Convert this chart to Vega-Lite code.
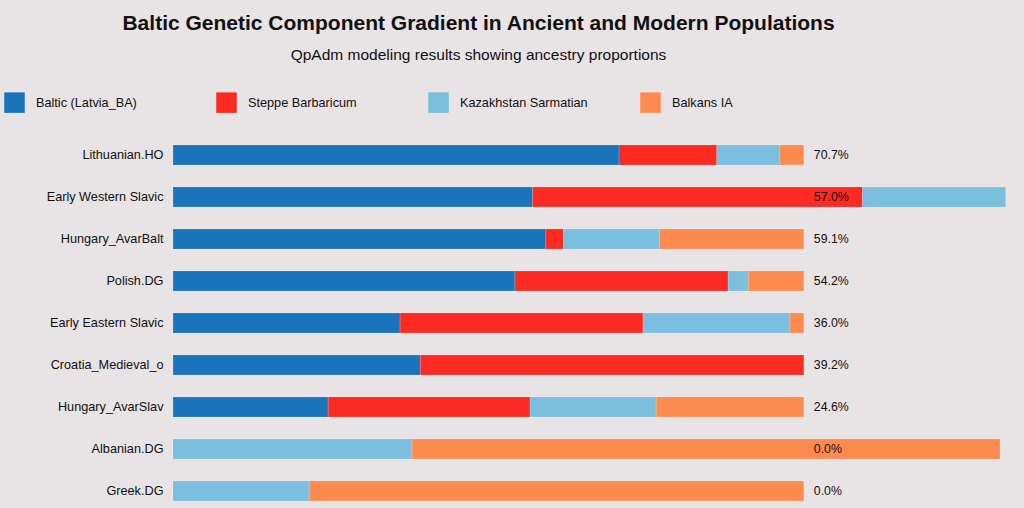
{
  "$schema": "https://vega.github.io/schema/vega-lite/v6.json",
  "autosize": {"type": "none"},
  "padding": {"left": 173, "top": 145, "right": 0, "bottom": 7},
  "width": 851,
  "height": 356,
  "background": "#e8e3e4",
  "config": {
    "view": {"stroke": null},
    "font": "Liberation Sans"
  },
  "title": {
    "text": "Baltic Genetic Component Gradient in Ancient and Modern Populations",
    "subtitle": "QpAdm modeling results showing ancestry proportions",
    "anchor": "middle",
    "frame": "group",
    "dx": -120,
    "offset": 29,
    "fontSize": 21,
    "fontWeight": "bold",
    "color": "#111111",
    "subtitleFontSize": 15.5,
    "subtitleColor": "#111111",
    "subtitlePadding": 14
  },
  "datasets": {
    "parts": [
      {"population": "Lithuanian.HO", "component": "Baltic (Latvia_BA)", "k": 1, "value": 70.7},
      {"population": "Lithuanian.HO", "component": "Steppe Barbaricum", "k": 2, "value": 15.5},
      {"population": "Lithuanian.HO", "component": "Kazakhstan Sarmatian", "k": 3, "value": 10.0},
      {"population": "Lithuanian.HO", "component": "Balkans IA", "k": 4, "value": 3.8},
      {"population": "Early Western Slavic", "component": "Baltic (Latvia_BA)", "k": 1, "value": 57.0},
      {"population": "Early Western Slavic", "component": "Steppe Barbaricum", "k": 2, "value": 52.3},
      {"population": "Early Western Slavic", "component": "Kazakhstan Sarmatian", "k": 3, "value": 22.7},
      {"population": "Hungary_AvarBalt", "component": "Baltic (Latvia_BA)", "k": 1, "value": 59.1},
      {"population": "Hungary_AvarBalt", "component": "Steppe Barbaricum", "k": 2, "value": 2.8},
      {"population": "Hungary_AvarBalt", "component": "Kazakhstan Sarmatian", "k": 3, "value": 15.2},
      {"population": "Hungary_AvarBalt", "component": "Balkans IA", "k": 4, "value": 22.9},
      {"population": "Polish.DG", "component": "Baltic (Latvia_BA)", "k": 1, "value": 54.2},
      {"population": "Polish.DG", "component": "Steppe Barbaricum", "k": 2, "value": 33.8},
      {"population": "Polish.DG", "component": "Kazakhstan Sarmatian", "k": 3, "value": 3.2},
      {"population": "Polish.DG", "component": "Balkans IA", "k": 4, "value": 8.8},
      {"population": "Early Eastern Slavic", "component": "Baltic (Latvia_BA)", "k": 1, "value": 36.0},
      {"population": "Early Eastern Slavic", "component": "Steppe Barbaricum", "k": 2, "value": 38.5},
      {"population": "Early Eastern Slavic", "component": "Kazakhstan Sarmatian", "k": 3, "value": 23.3},
      {"population": "Early Eastern Slavic", "component": "Balkans IA", "k": 4, "value": 2.2},
      {"population": "Croatia_Medieval_o", "component": "Baltic (Latvia_BA)", "k": 1, "value": 39.2},
      {"population": "Croatia_Medieval_o", "component": "Steppe Barbaricum", "k": 2, "value": 60.8},
      {"population": "Hungary_AvarSlav", "component": "Baltic (Latvia_BA)", "k": 1, "value": 24.6},
      {"population": "Hungary_AvarSlav", "component": "Steppe Barbaricum", "k": 2, "value": 32.0},
      {"population": "Hungary_AvarSlav", "component": "Kazakhstan Sarmatian", "k": 3, "value": 20.0},
      {"population": "Hungary_AvarSlav", "component": "Balkans IA", "k": 4, "value": 23.4},
      {"population": "Albanian.DG", "component": "Kazakhstan Sarmatian", "k": 3, "value": 37.9},
      {"population": "Albanian.DG", "component": "Balkans IA", "k": 4, "value": 93.2},
      {"population": "Greek.DG", "component": "Kazakhstan Sarmatian", "k": 3, "value": 21.6},
      {"population": "Greek.DG", "component": "Balkans IA", "k": 4, "value": 78.4}
    ],
    "labels": [
      {"population": "Lithuanian.HO", "label": "70.7%"},
      {"population": "Early Western Slavic", "label": "57.0%"},
      {"population": "Hungary_AvarBalt", "label": "59.1%"},
      {"population": "Polish.DG", "label": "54.2%"},
      {"population": "Early Eastern Slavic", "label": "36.0%"},
      {"population": "Croatia_Medieval_o", "label": "39.2%"},
      {"population": "Hungary_AvarSlav", "label": "24.6%"},
      {"population": "Albanian.DG", "label": "0.0%"},
      {"population": "Greek.DG", "label": "0.0%"}
    ]
  },
  "layer": [
    {
      "data": {"name": "parts"},
      "mark": {"type": "bar", "stroke": "#ffffff", "strokeOpacity": 0.25, "strokeWidth": 0.6},
      "encoding": {
        "y": {
          "field": "population", "type": "nominal",
          "sort": ["Lithuanian.HO", "Early Western Slavic", "Hungary_AvarBalt", "Polish.DG", "Early Eastern Slavic", "Croatia_Medieval_o", "Hungary_AvarSlav", "Albanian.DG", "Greek.DG"],
          "scale": {"paddingInner": 0.524, "paddingOuter": 0},
          "axis": {"title": null, "domain": false, "ticks": false, "labelPadding": 10, "labelFontSize": 12.7, "labelColor": "#111111", "labelLimit": 200}
        },
        "x": {
          "field": "value", "type": "quantitative", "stack": "zero",
          "scale": {"domain": [0, 134.9], "nice": false, "zero": true},
          "axis": null
        },
        "order": {"field": "k", "type": "quantitative"},
        "color": {
          "field": "component", "type": "nominal",
          "scale": {
            "domain": ["Baltic (Latvia_BA)", "Steppe Barbaricum", "Kazakhstan Sarmatian", "Balkans IA"],
            "range": ["#1a74bb", "#fb2a22", "#7bbfdf", "#fd8b50"]
          },
          "legend": {
            "title": null,
            "orient": "none",
            "legendX": -169,
            "legendY": -53,
            "direction": "horizontal",
            "columns": 4,
            "gridAlign": "all",
            "columnPadding": 52,
            "symbolType": "square",
            "symbolSize": 420,
            "symbolStrokeWidth": 0,
            "symbolOpacity": 1,
            "labelOffset": 11,
            "labelFontSize": 12.7,
            "labelColor": "#111111",
            "labelLimit": 300
          }
        }
      }
    },
    {
      "data": {"name": "labels"},
      "mark": {"type": "text", "align": "left", "baseline": "middle", "dx": 10, "fontSize": 12.3, "color": "#111111"},
      "encoding": {
        "y": {"field": "population", "type": "nominal", "sort": ["Lithuanian.HO", "Early Western Slavic", "Hungary_AvarBalt", "Polish.DG", "Early Eastern Slavic", "Croatia_Medieval_o", "Hungary_AvarSlav", "Albanian.DG", "Greek.DG"]},
        "x": {"datum": 100, "type": "quantitative"},
        "text": {"field": "label"}
      }
    }
  ]
}
